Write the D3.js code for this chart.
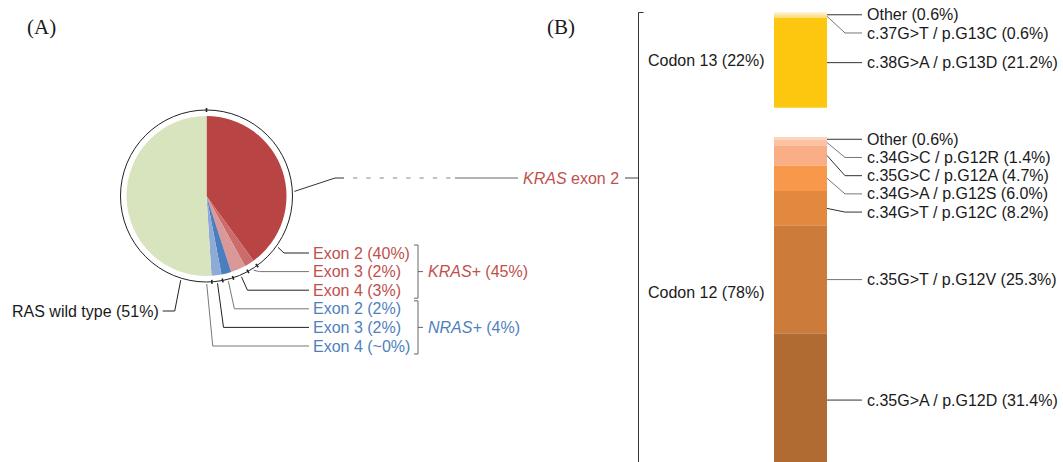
<!DOCTYPE html>
<html>
<head>
<meta charset="utf-8">
<script src="https://cdn.jsdelivr.net/npm/d3@7"></script>
<style>
  html, body { margin: 0; padding: 0; background: #fff; }
  svg { display: block; }
  text { font-family: "Liberation Sans", Arial, sans-serif; font-size: 16px; }
</style>
</head>
<body>
<svg id="chart" width="1063" height="462"></svg>
<script>
// ---- Panel A: RAS mutation status ----
const pieGenes  = ["KRAS", "KRAS", "KRAS", "NRAS", "NRAS", "NRAS", "WT"];
const pieExons  = ["Exon 2", "Exon 3", "Exon 4", "Exon 2", "Exon 3", "Exon 4", "RAS wild type"];
const pieValues = [40, 2, 3, 2, 2, 0, 51];
const pieValueText = ["40%", "2%", "3%", "2%", "2%", "~0%", "51%"];
const geneGroups = ["KRAS", "NRAS"];
const geneTotals = ["45%", "4%"];

// ---- Panel B: KRAS exon 2 codon breakdown ----
const codonNames  = ["Codon 13", "Codon 12"];
const codonTotals = ["22%", "78%"];
const codon13Mutations = ["Other", "c.37G>T / p.G13C", "c.38G>A / p.G13D"];
const codon13Values    = [0.6, 0.6, 21.2];
const codon12Mutations = ["Other", "c.34G>C / p.G12R", "c.35G>C / p.G12A", "c.34G>A / p.G12S",
                          "c.34G>T / p.G12C", "c.35G>T / p.G12V", "c.35G>A / p.G12D"];
const codon12Values    = [0.6, 1.4, 4.7, 6.0, 8.2, 25.3, 31.4];

const sliceColors = ["#b94444", "#cc6b6b", "#da9897", "#4a7ebf", "#8eabd8", "#8eabd8", "#d8e4be"];
const geneColors = { KRAS: "#c0504d", NRAS: "#4f81bd", WT: "#1a1a1a" };
const codon13Colors = ["#fcecbc", "#fde08c", "#fec70f"];
const codon12Colors = ["#fcd3bb", "#fbc2a1", "#f9ae86", "#f7984a", "#e3893f", "#cc7b3a", "#b06b32"];

const svg = d3.select("#chart");
const ink = "#1a1a1a";

// panel letters
svg.append("text").attr("x", 27).attr("y", 34)
  .style("font-family", "'Liberation Serif', 'Times New Roman', serif").style("font-size", "21px")
  .attr("fill", ink).text("(A)");
svg.append("text").attr("x", 547).attr("y", 34)
  .style("font-family", "'Liberation Serif', 'Times New Roman', serif").style("font-size", "21px")
  .attr("fill", ink).text("(B)");

// ---------- pie ----------
const cx = 206.5, cy = 196, r = 80, ringR = 86, anchorR = 88;
const pieData = pieValues.map((v, i) => ({ gene: pieGenes[i], exon: pieExons[i], value: v, txt: pieValueText[i], i }));
const pie = d3.pie().sort(null).value(d => d.value);
const arcs = pie(pieData);
const arc = d3.arc().innerRadius(0).outerRadius(r);
const gPie = svg.append("g").attr("transform", `translate(${cx},${cy})`);

gPie.selectAll("path.slice").data(arcs.filter(a => a.data.value > 0)).join("path")
  .attr("class", "slice").attr("d", arc).attr("fill", a => sliceColors[a.data.i]);

// surrounding ring with boundary ticks
gPie.append("circle").attr("r", ringR).attr("fill", "none").attr("stroke", "#222").attr("stroke-width", 1);
const pt = (ang, rad) => [rad * Math.sin(ang), -rad * Math.cos(ang)];
const boundaries = Array.from(new Set(arcs.map(a => a.startAngle)));
gPie.selectAll("line.tick").data(boundaries).join("line")
  .attr("class", "tick")
  .attr("x1", a => pt(a, ringR - 2)[0]).attr("y1", a => pt(a, ringR - 2)[1])
  .attr("x2", a => pt(a, ringR + 2)[0]).attr("y2", a => pt(a, ringR + 2)[1])
  .attr("stroke", "#222").attr("stroke-width", 1.6);

// slice labels
const labelX = 313, labelY0 = 253, labelStep = 18.6;
const mutantArcs = arcs.filter(a => a.data.gene !== "WT");
mutantArcs.forEach((a, k) => {
  const span = a.endAngle - a.startAngle;
  const ang = span > 0.6 ? a.endAngle - 0.32 : (span > 0 ? (a.startAngle + a.endAngle) / 2 : a.startAngle + 0.06);
  const [ax, ay] = pt(ang, anchorR);
  const x0 = cx + ax, y0 = cy + ay, ly = labelY0 + k * labelStep;
  svg.append("path")
    .attr("d", d3.line()([[x0, y0], [x0 + 6, ly], [labelX - 4, ly]]))
    .attr("fill", "none").attr("stroke", k % 2 ? "#777" : "#222").attr("stroke-width", 1);
  svg.append("text").attr("x", labelX).attr("y", ly).attr("dy", "0.35em")
    .attr("fill", geneColors[a.data.gene]).text(`${a.data.exon} (${a.data.txt})`);
});

// wild type label
const wt = arcs.find(a => a.data.gene === "WT");
{
  const [ax, ay] = pt(wt.startAngle + 0.36, anchorR);
  const x0 = cx + ax, y0 = cy + ay, ly = 311;
  svg.append("path").attr("d", d3.line()([[x0, y0], [x0 - 6, ly], [x0 - 18, ly]]))
    .attr("fill", "none").attr("stroke", "#222").attr("stroke-width", 1);
  svg.append("text").attr("x", x0 - 22).attr("y", ly).attr("dy", "0.35em").attr("text-anchor", "end")
    .attr("fill", ink).text(`${wt.data.exon} (${wt.data.txt})`);
}

// gene brackets
const bx = 418;
geneGroups.forEach((g, gi) => {
  const rows = mutantArcs.map((a, k) => ({ a, k })).filter(o => o.a.data.gene === g);
  const top = labelY0 + rows[0].k * labelStep - 8;
  const bot = labelY0 + rows[rows.length - 1].k * labelStep + 8;
  const mid = (top + bot) / 2;
  svg.append("path")
    .attr("d", `M${bx - 4},${top}H${bx}V${bot}H${bx - 4}M${bx},${mid}H${bx + 5}`)
    .attr("fill", "none").attr("stroke", "#666").attr("stroke-width", 1);
  const t = svg.append("text").attr("x", 428).attr("y", mid).attr("dy", "0.35em").attr("fill", geneColors[g]);
  t.append("tspan").style("font-style", "italic").text(`${g}+`);
  t.append("tspan").text(` (${geneTotals[gi]})`);
});

// KRAS exon 2 connector to panel B
const linkY = 178;
{
  const [ax, ay] = pt(Math.PI * 87 / 180, anchorR);
  svg.append("path").attr("d", d3.line()([[cx + ax, cy + ay], [335, linkY], [344, linkY]]))
    .attr("fill", "none").attr("stroke", "#333").attr("stroke-width", 1);
  svg.append("line").attr("x1", 353).attr("x2", 452).attr("y1", linkY).attr("y2", linkY)
    .attr("stroke", "#888").attr("stroke-width", 1.2).attr("stroke-dasharray", "4.3,9");
  svg.append("line").attr("x1", 455).attr("x2", 518).attr("y1", linkY).attr("y2", linkY)
    .attr("stroke", "#666").attr("stroke-width", 1);
  const t = svg.append("text").attr("x", 523).attr("y", linkY).attr("dy", "0.35em").attr("fill", geneColors.KRAS);
  t.append("tspan").style("font-style", "italic").text("KRAS");
  t.append("tspan").text(" exon 2");
  svg.append("line").attr("x1", 625).attr("x2", 639).attr("y1", linkY).attr("y2", linkY)
    .attr("stroke", "#444").attr("stroke-width", 1);
}

// ---------- stacked codon bars ----------
const y = d3.scaleLinear().domain([0, 100]).range([0, 425]);
const barX = 774, barW = 53, barRight = barX + barW;
const mutLabelX = 867;

// bracket grouping both codons
svg.append("path").attr("d", `M643.5,12.5H638.5V470`)
  .attr("fill", "none").attr("stroke", "#333").attr("stroke-width", 1);

const codonSets = [
  { name: codonNames[0], total: codonTotals[0], muts: codon13Mutations, vals: codon13Values, cols: codon13Colors, top: 12.5, labelFrac: 0.5 },
  { name: codonNames[1], total: codonTotals[1], muts: codon12Mutations, vals: codon12Values, cols: codon12Colors, top: 137, labelFrac: 0.47 }
];

codonSets.forEach(set => {
  const ends = d3.cumsum(set.vals);
  const segs = set.vals.map((v, i) => {
    const y0 = set.top + y(ends[i] - v), y1 = set.top + y(ends[i]);
    return { label: set.muts[i], value: v, y0, y1, mid: (y0 + y1) / 2, color: set.cols[i] };
  });
  svg.append("g").selectAll("rect").data(segs).join("rect")
    .attr("x", barX).attr("width", barW)
    .attr("y", d => d.y0).attr("height", d => d.y1 - d.y0)
    .attr("fill", d => d.color);

  // dodge labels downward so they do not overlap
  let prev = -Infinity;
  segs.forEach((s, i) => {
    const ly = Math.max(s.mid + (i === 0 ? 1 : 0), prev + 18.2);
    prev = ly;
    const pts = Math.abs(ly - s.mid) < 3
      ? [[barRight, ly], [mutLabelX - 5, ly]]
      : [[barRight, s.mid], [barRight + 18, ly], [mutLabelX - 5, ly]];
    svg.append("path").attr("d", d3.line()(pts))
      .attr("fill", "none").attr("stroke", i % 2 ? "#777" : "#333").attr("stroke-width", 1);
    svg.append("text").attr("x", mutLabelX).attr("y", ly).attr("dy", "0.35em").attr("fill", ink)
      .text(`${s.label} (${d3.format(".1f")(s.value)}%)`);
  });

  const span = y(d3.sum(set.vals));
  svg.append("text").attr("x", 648).attr("y", set.top + span * set.labelFrac).attr("dy", "0.35em")
    .attr("fill", ink).text(`${set.name} (${set.total})`);
});
</script>
</body>
</html>
